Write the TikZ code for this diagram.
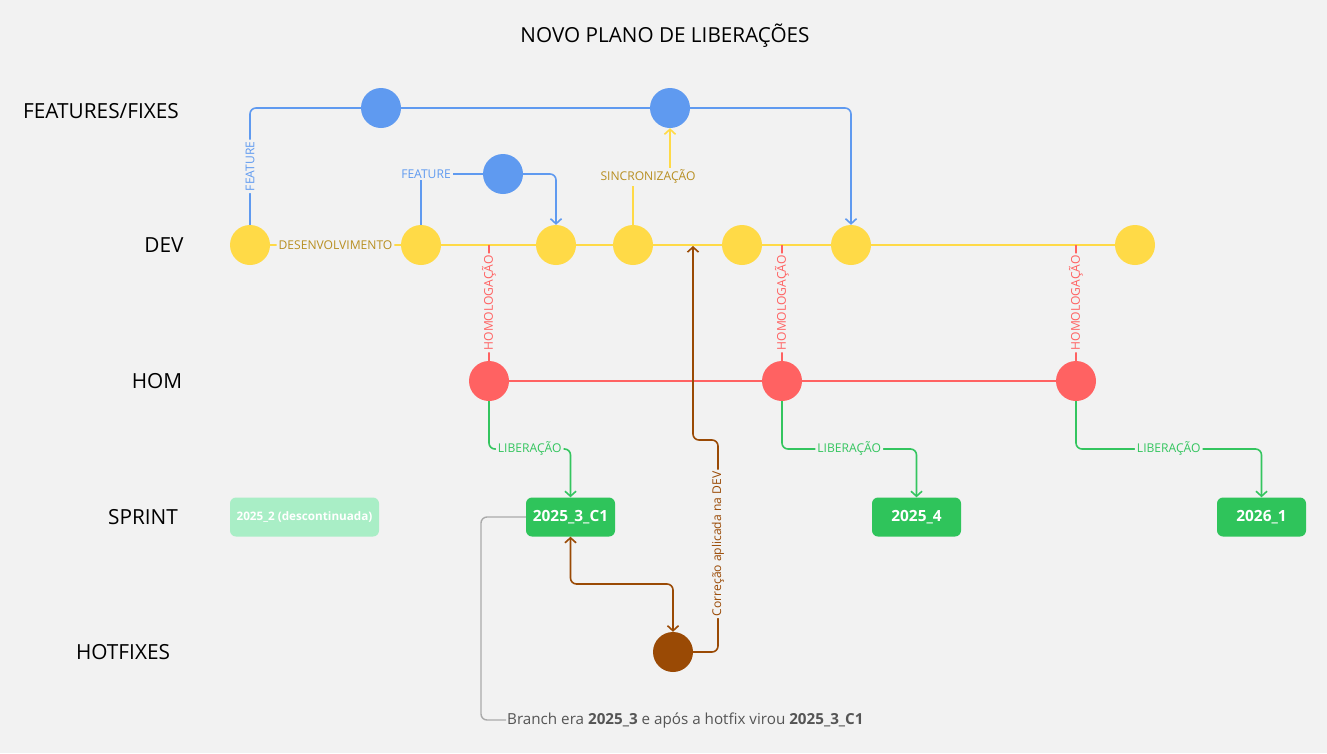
\documentclass[tikz,border=0pt]{standalone}
\usepackage{fontspec}
\setmainfont{Open Sans}
\usetikzlibrary{arrows.meta}
\definecolor{bg}{HTML}{F2F2F2}
\definecolor{cblue}{HTML}{5F9AF0}
\definecolor{cyel}{HTML}{FFDA47}
\definecolor{cgold}{HTML}{B88F22}
\definecolor{cred}{HTML}{FF6262}
\definecolor{cgreen}{HTML}{34C55F}
\definecolor{cgbox}{HTML}{2FC45B}
\definecolor{clight}{HTML}{A9EEC6}
\definecolor{cbrown}{HTML}{9A4A05}
\definecolor{cgray}{HTML}{AAAAAA}
\definecolor{ctext}{HTML}{555555}
\tikzset{
  dot/.style={circle, minimum size=40pt, inner sep=0pt, draw=none},
  conn/.style={line width=1.6pt, rounded corners=6pt},
  tip/.style={-{Straight Barb[length=5pt,width=11pt]}},
  lbl/.style={fill=bg, inner sep=2pt, font=\fontsize{12.1}{14}\selectfont},
  rowlbl/.style={font=\fontsize{20.8}{24}\selectfont, text=black},
  sbox/.style={rounded corners=6pt, minimum height=39pt, text=white, font=\bfseries\fontsize{15.4}{17}\selectfont, fill=cgbox, minimum width=89pt, inner sep=0pt},
}
\begin{document}
\begin{tikzpicture}[x=1pt,y=-1pt]
\fill[bg] (0,0) rectangle (1327,753);
\useasboundingbox (0,0) rectangle (1327,753);

% title and row labels
\node[font=\fontsize{20.7}{24}\selectfont] (title) at (665,36) {NOVO PLANO DE LIBERAÇÕES};
\node[rowlbl] (rfeat) at (101,111) {FEATURES/FIXES};
\node[rowlbl] (rdev) at (164,245) {DEV};
\node[rowlbl] (rhom) at (157,381) {HOM};
\node[rowlbl] (rspr) at (143,517) {SPRINT};
\node[rowlbl] (rhot) at (123,652) {HOTFIXES};

% nodes
\node[dot, fill=cblue] (f1) at (381,108) {};
\node[dot, fill=cblue] (f2) at (670,108) {};
\node[dot, fill=cblue] (f3) at (503,174) {};
\node[dot, fill=cyel] (d1) at (250,245) {};
\node[dot, fill=cyel] (d2) at (421,245) {};
\node[dot, fill=cyel] (d3) at (556,245) {};
\node[dot, fill=cyel] (d4) at (633,245) {};
\node[dot, fill=cyel] (d5) at (742,245) {};
\node[dot, fill=cyel] (d6) at (851,245) {};
\node[dot, fill=cyel] (d7) at (1135,245) {};
\node[dot, fill=cred] (h1) at (489,381) {};
\node[dot, fill=cred] (h2) at (782,381) {};
\node[dot, fill=cred] (h3) at (1076,381) {};
\node[dot, fill=cbrown] (hf) at (673,652) {};
\node[sbox, fill=clight, minimum width=149pt, font=\bfseries\fontsize{11.7}{13}\selectfont] (s0) at (304.5,517) {2025\_2 (descontinuada)};
\node[sbox] (s1) at (570.5,517) {2025\_3\_C1};
\node[sbox] (s2) at (916.5,517) {2025\_4};
\node[sbox] (s3) at (1261.5,517) {2026\_1};

\coordinate (b1) at (489,245);
\coordinate (b2) at (782,245);
\coordinate (b3) at (1076,245);
\coordinate (bb) at (693,246);

% DEV line
\draw[conn, cyel] (d1) -- node[lbl, text=cgold] (ldes) {DESENVOLVIMENTO} (d2) -- (d3) -- (d4) -- (d5) -- (d6) -- (d7);

% HOM branches
\draw[conn, cred] (b1) -- node[lbl, text=cred, rotate=90] (lh1) {HOMOLOGAÇÃO} (h1);
\draw[conn, cred] (b2) -- node[lbl, text=cred, rotate=90] (lh2) {HOMOLOGAÇÃO} (h2);
\draw[conn, cred] (b3) -- node[lbl, text=cred, rotate=90] (lh3) {HOMOLOGAÇÃO} (h3);
\draw[conn, cred] (h1) -- (h2) -- (h3);

% features
\draw[conn, cblue] (d1.north) |- node[pos=0.25, lbl, text=cblue, rotate=90] (lf1) {FEATURE} (f1);
\draw[conn, cblue] (f1) -- (f2);
\draw[conn, cblue, tip] (f2) -| (d6.north);
\draw[conn, cblue] (d2.north) |- (f3);
\node[lbl, text=cblue] (lf2) at (426,174) {FEATURE};
\draw[conn, cblue, tip] (f3) -| (d3.north);

% sync
\draw[conn, cyel, tip] (d4.north) -- (633,177) -- (670,177) -- (f2.south);
\node[lbl, text=cgold] (lsync) at (648,177) {SINCRONIZAÇÃO};

% liberacao
\draw[conn, cgreen, tip] (h1.south) -- (489,449) -- node[lbl, text=cgreen] (ll1) {LIBERAÇÃO} (570.5,449) -- (s1.north);
\draw[conn, cgreen, tip] (h2.south) -- (782,449) -- node[lbl, text=cgreen] (ll2) {LIBERAÇÃO} (916.5,449) -- (s2.north);
\draw[conn, cgreen, tip] (h3.south) -- (1076,449) -- node[lbl, text=cgreen] (ll3) {LIBERAÇÃO} (1261.5,449) -- (s3.north);

% hotfix
\draw[conn, cbrown, {Straight Barb[length=5pt,width=11pt]}-{Straight Barb[length=5pt,width=11pt]}] (s1.south) -- (570.5,584) -- (673,584) -- (hf.north);
\draw[conn, cbrown, tip] (hf.east) -- (718,652) -- node[lbl, text=cbrown, rotate=90, pos=0.51] (lcor) {Correção aplicada na DEV} (718,440) -- (693,440) -- (bb);

% note
\node[anchor=west, text=ctext, font=\fontsize{15.2}{17}\selectfont, inner sep=1pt] (note) at (506,720) {Branch era \textbf{2025\_3} e após a hotfix virou \textbf{2025\_3\_C1}};
\draw[conn, cgray, line width=1.4pt] (s1.west) -- (481,517) -- (481,720) -- (note.west);
\end{tikzpicture}
\end{document}
